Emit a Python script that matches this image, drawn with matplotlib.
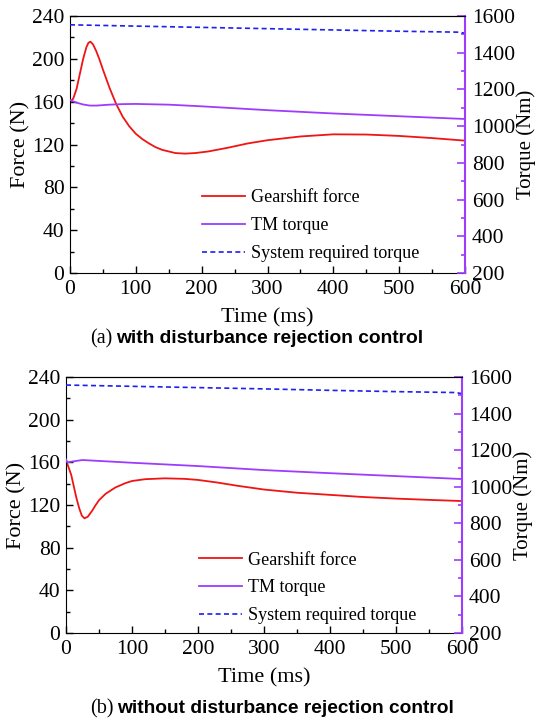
import matplotlib
matplotlib.use("Agg")
import matplotlib.pyplot as plt
from matplotlib.ticker import MultipleLocator

plt.rcParams['font.family'] = ['Liberation Serif', 'DejaVu Serif']

RED = '#f01414'
PURPLE = '#9d3cff'
BLUE = '#1f1fee'

# (a) with disturbance rejection control
t_force_a = [0, 5, 10, 15, 20, 25, 28, 31, 35, 40, 45, 50, 55, 60, 70, 80, 90, 100, 110, 120, 130, 140,
             160, 175, 190, 210, 240, 270, 300, 350, 400, 450, 500, 550, 600]
force_a = [159, 163, 172, 186, 200, 211, 215, 216, 213.5, 207, 199, 190, 181.5, 173, 158, 146, 137, 130,
           125, 121, 117.5, 115, 112, 111.5, 112, 113.5, 117, 121, 124, 127.5, 129.5, 129.3, 128, 126, 123.6]
t_tm_a = [0, 5, 10, 20, 30, 40, 60, 80, 100, 150, 200, 300, 400, 500, 600]
tm_a = [1142, 1135, 1128, 1118, 1112, 1112, 1117, 1120, 1121, 1117, 1108, 1087, 1069, 1054, 1039]
t_req_a = [0, 100, 200, 300, 400, 500, 590, 600]
req_a = [1552, 1545, 1538, 1531, 1524, 1517, 1512, 1506]

# (b) without disturbance rejection control
t_force_b = [0, 3, 8, 12, 16, 20, 24, 28, 33, 40, 45, 50, 60, 75, 90, 100, 120, 150,
             180, 200, 230, 260, 300, 350, 400, 450, 500, 550, 600]
force_b = [161, 157, 148, 137, 126, 117, 110, 107.5, 109, 115, 120, 124.5, 130.5, 136.5, 140.5, 142.5,
           144.2, 145, 144.5, 143.5, 141, 138, 134.5, 131.5, 129.5, 127.5, 126, 124.8, 123.7]
t_tm_b = [0, 2, 10, 25, 40, 60, 100, 150, 200, 300, 400, 500, 600]
tm_b = [1150, 1133, 1138, 1146, 1143, 1139, 1131, 1122, 1113, 1091, 1074, 1058, 1042]
t_req_b = [0, 100, 200, 300, 400, 500, 590, 600]
req_b = [1556, 1549, 1542, 1535, 1527, 1520, 1515, 1509]

panels = [
    dict(rect=[70 / 535, 1 - 273 / 721, 395 / 535, 257 / 721],
         t_force=t_force_a, force=force_a, t_tm=t_tm_a, tm=tm_a, t_req=t_req_a, req=req_a,
         tag='(a)', caption='with disturbance rejection control', cap_y=1 - 343 / 721,
         leg=(0.334, 0.325)),
    dict(rect=[66 / 535, 1 - 633 / 721, 396 / 535, 256 / 721],
         t_force=t_force_b, force=force_b, t_tm=t_tm_b, tm=tm_b, t_req=t_req_b, req=req_b,
         tag='(b)', caption='without disturbance rejection control', cap_y=1 - 713 / 721,
         leg=(0.336, 0.318)),
]

fig = plt.figure(figsize=(5.35, 7.21), dpi=100)

tag_texts = []
for p in panels:
    ax = fig.add_axes(p['rect'])
    ax2 = ax.twinx()

    l1, = ax.plot(p['t_force'], p['force'], color=RED, lw=1.3, label='Gearshift force')
    l2, = ax2.plot(p['t_tm'], p['tm'], color=PURPLE, lw=1.3, label='TM torque')
    l3, = ax2.plot(p['t_req'], p['req'], color=BLUE, lw=1.2, dashes=(3, 2),
                   label='System required torque')

    ax.set_xlim(0, 600)
    ax.set_ylim(0, 240)
    ax2.set_ylim(200, 1600)
    ax.xaxis.set_major_locator(MultipleLocator(100))
    ax.xaxis.set_minor_locator(MultipleLocator(50))
    ax.yaxis.set_major_locator(MultipleLocator(40))
    ax.yaxis.set_minor_locator(MultipleLocator(20))
    ax2.yaxis.set_major_locator(MultipleLocator(200))
    ax2.yaxis.set_minor_locator(MultipleLocator(100))

    ax.tick_params(which='both', direction='in', labelsize=15.5, pad=4)
    ax.tick_params(which='major', length=5, width=1)
    ax.tick_params(which='minor', length=3, width=1)
    ax.tick_params(axis='x', pad=5)
    ax2.tick_params(which='both', direction='in', colors=PURPLE, labelcolor='black',
                    labelsize=15.5, pad=5)
    ax2.tick_params(which='major', length=6, width=1.2)
    ax2.tick_params(which='minor', length=3, width=1.2)

    ax.spines['right'].set_visible(False)
    ax2.spines['left'].set_visible(False)
    ax2.spines['bottom'].set_visible(False)
    ax2.spines['right'].set_color(PURPLE)
    ax2.spines['right'].set_linewidth(1.5)

    ax.set_xlabel('Time (ms)', fontsize=16, labelpad=7)
    ax.set_ylabel('Force (N)', fontsize=16, labelpad=1)
    ax2.set_ylabel('Torque (Nm)', fontsize=15, labelpad=1)

    ax2.legend(handles=[l1, l2, l3], loc='upper left', bbox_to_anchor=p['leg'],
               frameon=False, fontsize=13, handlelength=2.4, handletextpad=0.3,
               labelspacing=0.6, borderpad=0, borderaxespad=0)

    t1 = fig.text(90 / 535, p['cap_y'], p['tag'], fontsize=14.5, va='baseline')
    tag_texts.append((t1, p['caption'], p['cap_y']))

fig.canvas.draw()
for t1, cap, y in tag_texts:
    bb = t1.get_window_extent()
    x = bb.x1 / fig.bbox.width + 4 / 535
    fig.text(x, y, cap, fontsize=13.8, fontweight='bold', va='baseline',
             family=['Liberation Sans', 'DejaVu Sans'])

fig.savefig('out.png', dpi=100)
